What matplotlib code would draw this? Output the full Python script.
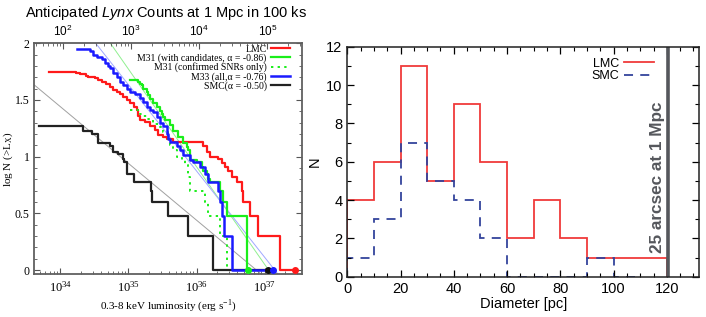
import numpy as np
import matplotlib
matplotlib.use("Agg")
import matplotlib.pyplot as plt
from matplotlib.ticker import MultipleLocator, LogLocator, NullFormatter
from matplotlib.lines import Line2D

plt.rcParams['mathtext.fontset'] = 'custom'
plt.rcParams['mathtext.rm'] = 'Liberation Serif'
plt.rcParams['mathtext.it'] = 'Liberation Sans:italic'
plt.rcParams['mathtext.sf'] = 'Liberation Sans'

# ---------------- data: cumulative log N(>L) step curves ----------------
lmc_logL = [33.835, 34.228, 34.287, 34.375, 34.409, 34.507, 34.556, 34.606, 34.669, 34.728,
            34.772, 34.826, 34.875, 34.924, 34.978, 35.022, 35.081, 35.121, 35.144, 35.169,
            35.243, 35.316, 35.390, 35.438, 35.507, 35.562, 35.650, 36.100, 36.150, 36.199,
            36.321, 36.371, 36.419, 36.468, 36.518, 36.591, 36.665, 36.690, 36.787, 36.909,
            37.228, 37.449]
lmc_logN = [1.747, 1.74, 1.733, 1.71, 1.70, 1.69, 1.68, 1.66, 1.64, 1.615,
            1.59, 1.571, 1.55, 1.527, 1.50, 1.469, 1.44, 1.41, 1.36, 1.32,
            1.307, 1.27, 1.233, 1.19, 1.175, 1.16, 1.13, 1.09, 1.04, 1.0,
            0.98, 0.94, 0.91, 0.87, 0.82, 0.778, 0.699, 0.602, 0.477, 0.301,
            0.0, 0.0]

m31_logL = [35.022, 35.144, 35.169, 35.194, 35.218, 35.268, 35.291, 35.316, 35.365, 35.415,
            35.463, 35.488, 35.512, 35.537, 35.610, 35.659, 35.732, 35.806, 35.856, 35.879,
            35.904, 36.003, 36.076, 36.100, 36.150, 36.174, 36.199, 36.346, 36.390, 36.444,
            36.743, 36.753]
m31_logN = [1.672, 1.66, 1.645, 1.63, 1.60, 1.57, 1.54, 1.51, 1.47, 1.44,
            1.40, 1.38, 1.35, 1.32, 1.28, 1.23, 1.175, 1.12, 1.086, 1.057,
            0.97, 0.954, 0.91, 0.87, 0.85, 0.80, 0.778, 0.699, 0.602, 0.477,
            0.0, 0.0]

m31c_logL = [35.022, 35.140, 35.213, 35.272, 35.365, 35.463, 35.512, 35.585, 35.610, 35.659,
             35.709, 35.782, 35.831, 35.879, 35.904, 36.125, 36.174, 36.346, 36.444]
m31c_logN = [1.41, 1.38, 1.36, 1.33, 1.29, 1.26, 1.22, 1.16, 1.10, 1.06,
             1.0, 0.97, 0.93, 0.82, 0.70, 0.602, 0.477, 0.301, 0.0]

m33_logL = [34.238, 34.434, 34.482, 34.537, 34.606, 34.654, 34.699, 34.728, 34.776, 34.826,
            34.875, 34.924, 34.974, 35.022, 35.096, 35.169, 35.218, 35.268, 35.316, 35.360,
            35.415, 35.463, 35.512, 35.562, 35.585, 35.610, 35.709, 35.757, 35.806, 35.904,
            35.953, 36.051, 36.125, 36.174, 36.321, 36.346, 36.382, 36.397, 36.518, 37.129]
m33_logN = [1.95, 1.93, 1.90, 1.88, 1.86, 1.83, 1.80, 1.78, 1.74, 1.70,
            1.66, 1.63, 1.60, 1.57, 1.55, 1.52, 1.48, 1.44, 1.41, 1.39,
            1.35, 1.30, 1.27, 1.20, 1.16, 1.13, 1.09, 1.057, 1.013, 0.97,
            0.954, 0.91, 0.85, 0.778, 0.699, 0.602, 0.477, 0.301, 0.0, 0.0]

smc_logL = [33.688, 34.326, 34.338, 34.463, 34.556, 34.728, 34.772, 34.846, 34.924, 34.938,
            34.974, 35.081, 35.326, 35.346, 35.585, 35.879, 36.247, 37.056]
smc_logN = [1.27, 1.24, 1.23, 1.20, 1.12, 1.095, 1.042, 1.022, 0.98, 0.954,
            0.85, 0.78, 0.70, 0.602, 0.477, 0.301, 0.0, 0.0]

# power-law fits: logN = slope * (zero_point - logL)
fit_slopes = [0.86, 0.76, 0.50]          # M31, M33, SMC
fit_zero_logL = [37.06, 37.15, 36.88]

legend_labels = ['LMC', 'M31 (with candidates, \u03b1 = -0.86)', 'M31 (confirmed SNRs only)',
                 'M33 (all,\u03b1 = -0.76)', 'SMC(\u03b1 = -0.50)']
count_offset_logL = 32.04  # log L giving 1 count in 100 ks

# ---------------- data: diameter histograms ----------------
bin_edges_lmc = [0, 10, 20, 30, 40, 50, 60, 70, 80, 90, 100, 110, 120]
lmc_counts = [4, 6, 11, 5, 9, 6, 2, 4, 2, 1, 1, 1]
bin_edges_smc = [0, 10, 20, 30, 40, 50, 60, 70, 80, 90, 100, 110]
smc_counts = [1, 3, 7, 5, 4, 2, 0, 0, 0, 1, 0]
limit_pc = 120.6
limit_text = '25 arcsec at 1 Mpc'

# ---------------- figure ----------------
fig = plt.figure(figsize=(7.06, 3.17), dpi=100)
W, H = 706, 317

xl0, xl1 = 33.615, 37.551
ax1 = fig.add_axes([34.3 / W, (H - 274) / H, (302 - 34.3) / W, (274 - 43.3) / H])
ax1.set_xscale('log')
ax1.set_xlim(10 ** xl0, 10 ** xl1)
ax1.set_ylim(-0.035, 2.0)

xx = np.linspace(xl0, xl1, 200)
fit_colors = ['#90f090', '#a0a8ff', '#a0a0a0']
for s, z, c in zip(fit_slopes, fit_zero_logL, fit_colors):
    ax1.plot(10 ** xx, s * (z - xx), color=c, lw=0.7, zorder=2)

def stepcurve(lx, ly, **kw):
    return ax1.step(10 ** np.array(lx), ly, where='post', **kw)

l_lmc, = stepcurve(lmc_logL, lmc_logN, color='#ff1a1a', lw=1.6, zorder=3)
l_m31, = stepcurve(m31_logL, m31_logN, color='#1aee1a', lw=1.6, zorder=3)
l_m31c, = stepcurve(m31c_logL, m31c_logN, color='#1aee1a', lw=1.4, ls=(0, (1.2, 2.2)), zorder=3)
l_m33, = stepcurve(m33_logL, m33_logN, color='#1a1aff', lw=1.8, zorder=4)
l_smc, = stepcurve(smc_logL, smc_logN, color='#222222', lw=1.6, zorder=3)
for lx, ly, c in [(lmc_logL, lmc_logN, '#ff1a1a'), (m31_logL, m31_logN, '#1aee1a'),
                  (smc_logL, smc_logN, '#111111'), (m33_logL, m33_logN, '#1a1aff')]:
    ax1.plot(10 ** lx[-1], ly[-1], 'o', color=c, ms=4, zorder=5, clip_on=False)

ax1.set_xticks([1e34, 1e35, 1e36, 1e37])
ax1.set_xticklabels([r'$\mathrm{10^{%d}}$' % e for e in (34, 35, 36, 37)], fontsize=9)
ax1.xaxis.set_minor_locator(LogLocator(base=10, subs=np.arange(2, 10)))
ax1.xaxis.set_minor_formatter(NullFormatter())
ax1.set_yticks([0, 0.5, 1, 1.5, 2])
ax1.set_yticklabels(['0', '0.5', '1', '1.5', '2'], family='Liberation Serif', fontsize=8.5)
ax1.yaxis.set_minor_locator(MultipleLocator(0.1))
ax1.tick_params(which='both', direction='in', top=False, right=True, color='#555555')
ax1.tick_params(which='major', length=4.5, width=0.8)
ax1.tick_params(which='minor', length=2.2, width=0.6)
ax1.tick_params(axis='x', pad=4)
for sp in ax1.spines.values():
    sp.set_color('#606060')
    sp.set_linewidth(1.3)
ax1.set_xlabel(r'0.3-8 keV luminosity (erg s$^{-1}$)', family='Liberation Serif', fontsize=8, labelpad=2)
ax1.set_ylabel(r'log N (>L$_\mathrm{X}$)', family='Liberation Serif', fontsize=8)
ax1.yaxis.set_label_coords(-0.072, 0.5)

axt = ax1.twiny()
axt.set_xscale('log')
axt.set_xlim(10 ** (xl0 - count_offset_logL), 10 ** (xl1 - count_offset_logL))
axt.set_xticks([1e2, 1e3, 1e4, 1e5])
axt.set_xticklabels([r'$\mathsf{10^{%d}}$' % e for e in (2, 3, 4, 5)], fontsize=8.5)
axt.xaxis.set_minor_locator(LogLocator(base=10, subs=np.arange(2, 10)))
axt.xaxis.set_minor_formatter(NullFormatter())
axt.tick_params(which='both', direction='in', color='#555555', pad=3)
axt.tick_params(which='major', length=4.5, width=0.8)
axt.tick_params(which='minor', length=2.2, width=0.6)
for sp in axt.spines.values():
    sp.set_visible(False)

fig.text(166 / W, 1 - 13 / H, r'Anticipated $\mathit{Lynx}$ Counts at 1 Mpc in 100 ks',
         family='Liberation Sans', fontsize=10.5, ha='center', va='center')

leg1 = ax1.legend([l_lmc, l_m31, l_m31c, l_m33, l_smc], legend_labels, loc='upper right',
                  frameon=False, markerfirst=False, prop={'family': 'Liberation Serif', 'size': 7},
                  handlelength=2.0, handletextpad=0.4, labelspacing=-0.05,
                  borderaxespad=0.0, bbox_to_anchor=(0.97, 1.01))

# ---------------- right panel ----------------
ax2 = fig.add_axes([347.3 / W, (H - 276.7) / H, (699.3 - 347.3) / W, (276.7 - 46.7) / H])
ax2.set_xlim(0, 132.2)
ax2.set_ylim(0, 12)
ax2.stairs(lmc_counts, bin_edges_lmc, baseline=0, color='#f03a3a', lw=1.3, label='LMC')
ax2.stairs(smc_counts, bin_edges_smc, baseline=0, color='#34449c', lw=1.3,
           ls=(0, (5, 4)), label='SMC')
ax2.axvline(limit_pc, color='#55575c', lw=2.6)
ax2.text(116.6, 5.17, limit_text, rotation=90, ha='center', va='center',
         family='Liberation Sans', fontweight='bold', fontsize=12.3, color='#55575c')
ax2.set_xticks(range(0, 121, 20))
ax2.set_yticks(range(0, 13, 2))
ax2.xaxis.set_minor_locator(MultipleLocator(5))
ax2.yaxis.set_minor_locator(MultipleLocator(1))
ax2.tick_params(which='both', direction='in', top=True, right=True, labelsize=10.5)
ax2.tick_params(which='major', length=5, width=0.9)
ax2.tick_params(which='minor', length=3, width=0.8)
for lab in ax2.get_xticklabels() + ax2.get_yticklabels():
    lab.set_family('Liberation Sans')
for sp in ax2.spines.values():
    sp.set_linewidth(1.1)
    sp.set_color('#222222')
ax2.set_xlabel('Diameter [pc]', family='Liberation Sans', fontsize=10.5, labelpad=1)
ax2.set_ylabel('N', family='Liberation Sans', fontsize=10.5, labelpad=3)
h1 = Line2D([], [], color='#f03a3a', lw=1.3)
h2 = Line2D([], [], color='#34449c', lw=1.3, ls=(0, (5, 4)))
ax2.legend([h1, h2], ['LMC', 'SMC'], loc='upper right', bbox_to_anchor=(0.893, 0.985),
           frameon=False, markerfirst=False, prop={'family': 'Liberation Sans', 'size': 9},
           handlelength=2.4, handletextpad=0.4, labelspacing=0.05, borderaxespad=0.2)

fig.savefig('out.png', dpi=100)
